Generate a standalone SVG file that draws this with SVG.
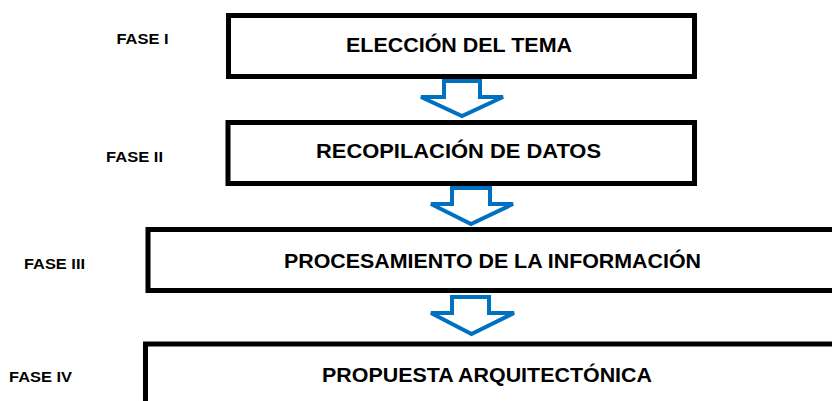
<svg xmlns="http://www.w3.org/2000/svg" width="832" height="401" viewBox="0 0 832 401">
<style>
.box{fill:#fff;stroke:#000;stroke-width:5}
.t{font-family:"Liberation Sans",Arial,sans-serif;font-weight:bold;font-size:21px;fill:#000}
.f{font-family:"Liberation Sans",Arial,sans-serif;font-weight:bold;font-size:14px;fill:#000}
.arr{fill:#fff;stroke:#0070C0;stroke-width:4;stroke-linejoin:miter}
</style>
<rect width="832" height="401" fill="#fff"/>
<g id="fase1">
<rect class="box" x="228.5" y="15.5" width="466" height="61"/>
<text class="t" x="346" y="52" textLength="226" lengthAdjust="spacingAndGlyphs">ELECCIÓN DEL TEMA</text>
<text class="f" x="116.5" y="44" textLength="52" lengthAdjust="spacingAndGlyphs">FASE I</text>
</g>
<g id="fase2">
<rect class="box" x="228" y="122.5" width="466.5" height="61"/>
<text class="t" x="316" y="158" textLength="285" lengthAdjust="spacingAndGlyphs">RECOPILACIÓN DE DATOS</text>
<text class="f" x="106" y="162" textLength="57" lengthAdjust="spacingAndGlyphs">FASE II</text>
</g>
<g id="fase3">
<rect class="box" x="148" y="229.5" width="700" height="61"/>
<text class="t" x="284" y="268" textLength="417" lengthAdjust="spacingAndGlyphs">PROCESAMIENTO DE LA INFORMACIÓN</text>
<text class="f" x="24" y="269" textLength="61" lengthAdjust="spacingAndGlyphs">FASE III</text>
</g>
<g id="fase4">
<rect class="box" x="145.5" y="344" width="700" height="80"/>
<text class="t" x="322" y="382" textLength="330" lengthAdjust="spacingAndGlyphs">PROPUESTA ARQUITECTÓNICA</text>
<text class="f" x="9" y="382" textLength="63" lengthAdjust="spacingAndGlyphs">FASE IV</text>
</g>
<g id="connectors">
<polygon class="arr" points="444,81 480,81 480,97 503,97 462,116 421,97 444,97"/>
<polygon class="arr" points="452,188 490,188 490,204 513,204 471,224 431,204 452,204"/>
<polygon class="arr" points="452,297 489,297 489,313 514,313 471.5,334 431,313 452,313"/>
</g>
</svg>
